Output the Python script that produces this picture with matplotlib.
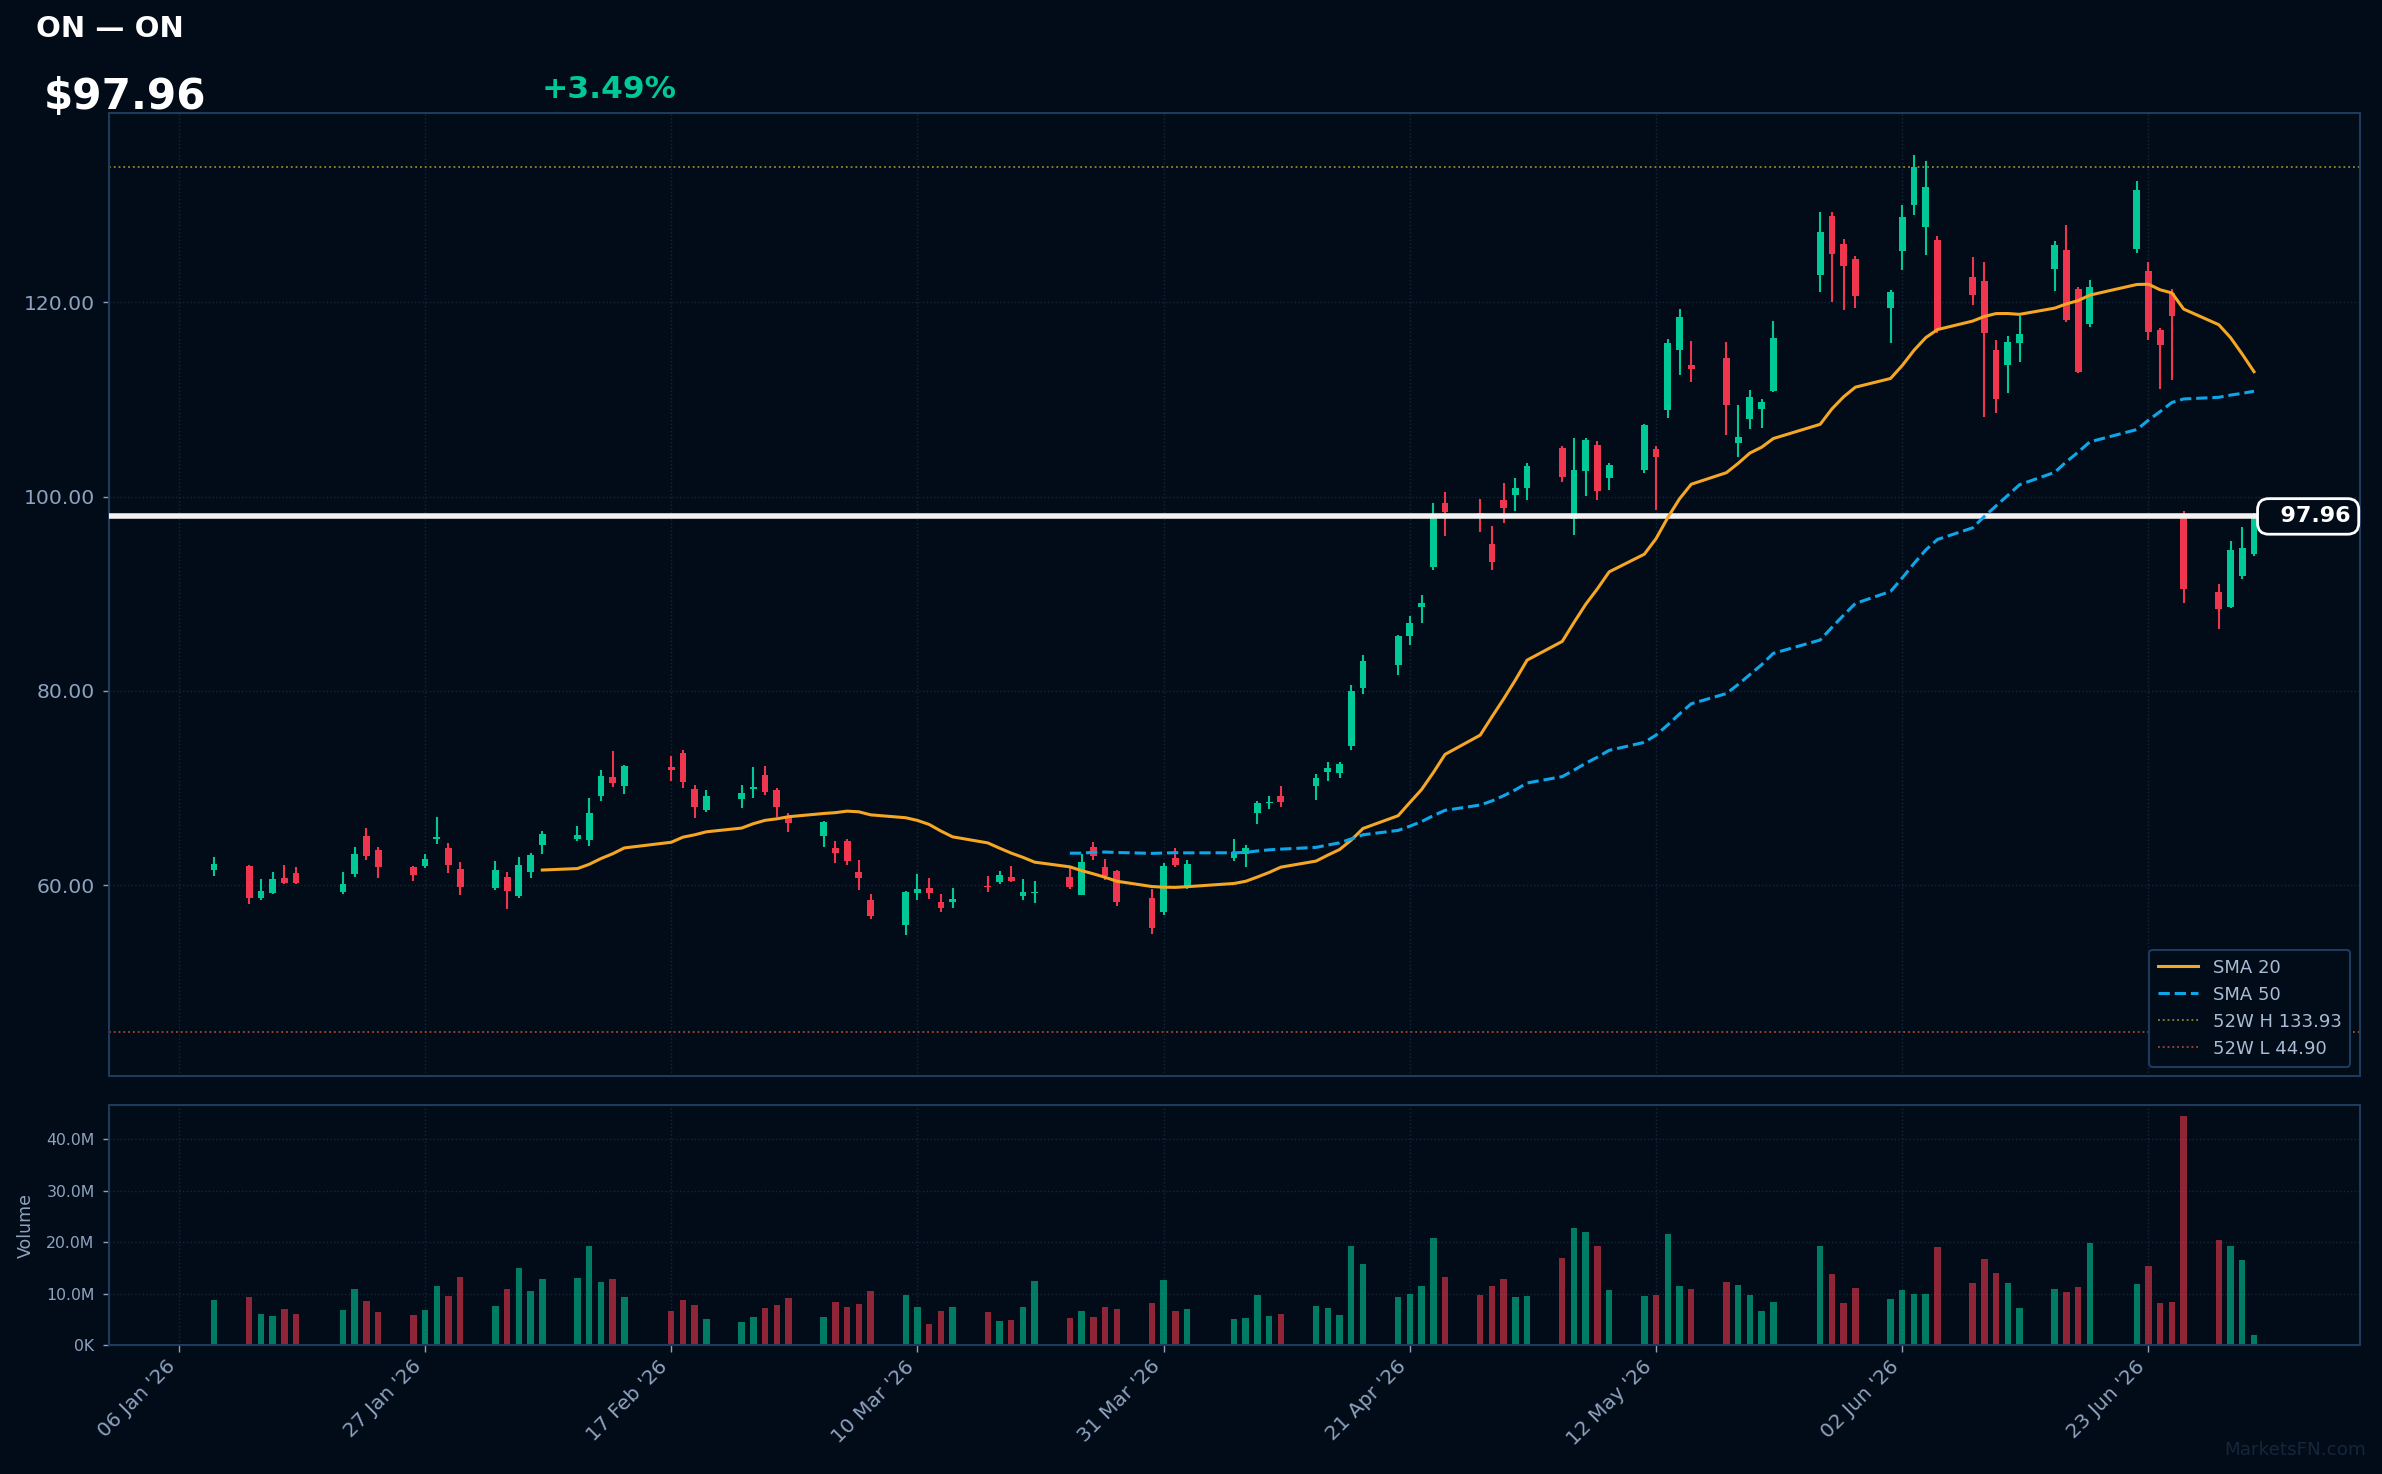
import matplotlib
matplotlib.use('Agg')
import matplotlib.pyplot as plt
import matplotlib.dates as mdates
import matplotlib.transforms as mtransforms
from matplotlib.ticker import FixedLocator, FuncFormatter
import numpy as np
import pandas as pd

# ---------------- data ----------------
holidays = ['2026-01-19', '2026-02-16', '2026-04-03', '2026-05-25', '2026-06-19']
all_days = pd.bdate_range('2026-01-09', '2026-07-02')
dates = all_days[~all_days.isin(pd.to_datetime(holidays))]

open_ = [61.55, 61.96, 58.67, 59.18, 60.73, 61.24, 59.29, 61.14, 65.05, 63.61,
         61.86, 61.96, 64.78, 63.82, 61.65, 59.70, 60.83, 58.87, 61.35, 64.13,
         64.74, 64.64, 69.17, 71.13, 70.20, 72.13, 73.60, 69.89, 67.73, 68.87,
         69.89, 71.34, 69.79, 66.91, 65.05, 63.82, 64.54, 61.35, 58.46, 55.89,
         59.18, 59.70, 58.26, 58.26, 59.90, 60.32, 60.83, 58.87, 59.18, 60.83,
         58.98, 63.92, 61.86, 61.45, 58.67, 57.23, 62.79, 59.70, 62.79, 63.20,
         67.42, 68.45, 69.17, 70.21, 71.65, 71.55, 74.33, 80.30, 82.67, 85.65,
         88.64, 92.76, 99.35, 98.30, 95.13, 99.66, 100.18, 100.90, 105.02, 97.67,
         102.65, 105.33, 101.93, 102.75, 104.92, 108.93, 115.11, 113.57, 114.29, 105.53,
         108.00, 109.03, 110.89, 122.83, 128.90, 126.00, 124.48, 119.44, 125.30, 130.04,
         127.70, 126.40, 122.64, 122.23, 115.13, 113.58, 115.85, 123.47, 125.42, 121.41,
         117.80, 125.53, 123.26, 117.19, 121.00, 98.24, 90.20, 88.66, 91.85, 94.12]
high = [62.89, 62.07, 60.63, 61.35, 62.07, 61.86, 61.35, 63.92, 65.88, 63.92,
        61.96, 63.20, 67.01, 64.33, 62.38, 62.48, 61.35, 62.89, 63.30, 65.57,
        66.08, 68.97, 71.85, 73.81, 72.37, 73.29, 73.91, 70.31, 69.79, 70.31,
        72.16, 72.26, 70.00, 67.42, 66.60, 64.54, 64.74, 62.58, 59.08, 59.39,
        61.14, 60.73, 59.08, 59.70, 60.93, 61.45, 61.96, 60.62, 60.42, 61.76,
        63.20, 64.43, 62.68, 61.55, 59.60, 62.27, 63.82, 62.58, 64.74, 64.13,
        68.66, 69.17, 70.20, 71.44, 72.68, 72.68, 80.61, 83.70, 85.76, 87.71,
        89.88, 99.35, 100.48, 99.76, 96.98, 101.41, 101.93, 103.47, 105.22, 106.05,
        106.05, 105.74, 103.47, 107.49, 105.23, 116.24, 119.33, 116.04, 115.94, 109.45,
        110.99, 110.07, 118.10, 129.25, 129.30, 126.50, 124.79, 121.29, 130.00, 135.20,
        134.50, 126.80, 124.70, 124.19, 116.16, 116.57, 118.63, 126.35, 128.00, 121.60,
        122.33, 132.53, 124.19, 117.39, 121.41, 98.55, 91.03, 95.46, 96.90, 98.30]
low = [60.93, 58.05, 58.46, 59.08, 60.11, 60.11, 59.08, 60.83, 62.58, 60.73,
       60.42, 61.76, 64.23, 61.24, 58.98, 59.49, 57.54, 58.67, 60.73, 63.20,
       64.54, 64.02, 68.66, 70.10, 69.38, 70.72, 70.00, 66.91, 67.53, 67.94,
       68.97, 69.28, 67.01, 65.47, 63.92, 62.27, 62.07, 59.49, 56.51, 54.86,
       58.46, 58.57, 57.23, 57.64, 59.29, 60.11, 60.32, 58.46, 58.15, 59.60,
       58.98, 62.58, 60.52, 57.84, 54.96, 56.92, 61.86, 59.60, 62.48, 61.86,
       66.29, 67.83, 68.04, 68.77, 70.72, 71.03, 73.91, 79.68, 81.64, 84.73,
       86.99, 92.45, 95.95, 96.37, 92.45, 97.29, 98.53, 99.66, 101.52, 96.06,
       100.07, 99.66, 100.69, 102.44, 98.63, 108.11, 112.54, 111.82, 106.36, 104.09,
       106.98, 107.08, 110.79, 121.08, 120.05, 119.23, 119.44, 115.83, 123.35, 129.00,
       124.90, 116.83, 119.76, 108.23, 108.64, 110.70, 113.89, 121.20, 118.01, 112.76,
       117.49, 125.12, 116.16, 111.11, 112.04, 89.07, 86.39, 88.56, 91.54, 93.91]
close = [62.17, 58.67, 59.39, 60.63, 60.21, 60.21, 60.11, 63.20, 62.99, 61.86,
         61.04, 62.69, 64.95, 62.07, 59.80, 61.55, 59.39, 62.07, 63.10, 65.26,
         65.16, 67.42, 71.23, 70.51, 72.26, 71.85, 70.62, 68.04, 69.17, 69.48,
         70.10, 69.59, 68.04, 66.39, 66.50, 63.30, 62.48, 60.73, 56.82, 59.29,
         59.60, 59.18, 57.64, 58.57, 59.80, 61.04, 60.42, 59.29, 59.29, 59.80,
         62.37, 62.99, 60.93, 58.26, 55.58, 61.96, 62.07, 62.17, 63.41, 63.82,
         68.45, 68.55, 68.55, 71.03, 72.06, 72.47, 79.99, 83.08, 85.65, 86.99,
         89.05, 97.81, 98.43, 97.90, 93.28, 98.84, 100.90, 103.16, 102.03, 102.75,
         105.84, 100.59, 103.27, 107.39, 104.09, 115.83, 118.51, 113.16, 109.45, 106.15,
         110.27, 109.76, 116.35, 127.22, 125.00, 123.76, 120.67, 121.08, 128.80, 133.94,
         131.90, 117.17, 120.79, 116.88, 110.08, 115.95, 116.77, 125.94, 118.22, 112.86,
         121.61, 131.60, 116.98, 115.64, 118.63, 90.51, 88.45, 94.53, 94.66, 97.96]
volume_m = [8.7, 9.3, 6.0, 5.6, 6.9, 6.0, 6.8, 10.8, 8.5, 6.4,
            5.8, 6.8, 11.4, 9.5, 13.2, 7.5, 10.8, 14.9, 10.5, 12.8,
            13.0, 19.2, 12.2, 12.8, 9.3, 6.6, 8.7, 7.7, 5.0, 4.4,
            5.4, 7.1, 7.7, 9.1, 5.4, 8.3, 7.3, 7.9, 10.5, 9.7,
            7.3, 4.0, 6.6, 7.3, 6.4, 4.6, 4.8, 7.3, 12.4, 5.2,
            6.6, 5.4, 7.3, 6.9, 8.1, 12.6, 6.6, 6.9, 5.0, 5.2,
            9.7, 5.6, 6.0, 7.5, 7.1, 5.8, 19.2, 15.7, 9.3, 9.9,
            11.4, 20.8, 13.2, 9.7, 11.4, 12.8, 9.3, 9.5, 16.9, 22.7,
            21.9, 19.2, 10.6, 9.5, 9.7, 21.6, 11.4, 10.8, 12.2, 11.6,
            9.7, 6.6, 8.3, 19.2, 13.8, 8.1, 11.0, 8.9, 10.6, 9.9,
            9.9, 19.0, 12.0, 16.7, 14.0, 12.0, 7.1, 10.8, 10.3, 11.2,
            19.8, 11.8, 15.3, 8.1, 8.3, 44.4, 20.4, 19.2, 16.5, 1.9]

ticker = 'ON'
last_price = 97.96
change_pct = 3.49
high_52w = 133.93
low_52w = 44.90
tick_dates = pd.date_range('2026-01-06', periods=9, freq='21D')

# ---------------- style ----------------
BG = '#010c18'
UP = '#00c897'
DOWN = '#f0364f'
SPINE = '#1e3a5c'
GRID = '#16263a'
TXT = '#8fa3bf'
LEG_TXT = '#a9bcd3'

W, H = 2382, 1474
fig = plt.figure(figsize=(W / 100, H / 100), dpi=100, facecolor=BG)
L, R = 108.5, 2359.5
ax = fig.add_axes([L / W, 1 - 1075.7 / H, (R - L) / W, (1075.7 - 113.3) / H])
axv = fig.add_axes([L / W, 1 - 1345 / H, (R - L) / W, (1345 - 1105) / H], sharex=ax)

o = np.array(open_); h = np.array(high); lo = np.array(low); c = np.array(close)
v = np.array(volume_m) * 1e6
x = mdates.date2num(dates.to_pydatetime())
colors = np.where(c >= o, UP, DOWN)

for a in (ax, axv):
    a.set_facecolor(BG)
    for s in a.spines.values():
        s.set_color(SPINE)
        s.set_linewidth(1.5)
    a.grid(True, color=GRID, ls=':', lw=1.0)
    a.set_axisbelow(True)

# candles
ax.vlines(x, lo, h, colors=colors, lw=1.5, zorder=3)
ax.bar(x, np.maximum(np.abs(c - o), 0.15), bottom=np.minimum(o, c), width=0.58,
       color=colors, linewidth=0, zorder=3.1)

# price line
ax.axhline(last_price, color='#f2f2f2', lw=4, zorder=4)

# SMAs
cs = pd.Series(c)
ax.plot(x, cs.rolling(20).mean(), color='#f5a623', lw=2.2, label='SMA 20', zorder=5)
ax.plot(x, cs.rolling(50).mean(), color='#0ea5e9', lw=2.2, ls='--', label='SMA 50', zorder=5)
ax.axhline(high_52w, color='#8c8a2e', ls=':', lw=1.3, label=f'52W H {high_52w:.2f}', zorder=2)
ax.axhline(low_52w, color='#a5482c', ls=':', lw=1.3, label=f'52W L {low_52w:.2f}', zorder=2)

ax.set_xlim(x[0] - 9, x[-1] + 9)
ax.set_ylim(40.4, 139.45)
ax.yaxis.set_major_locator(FixedLocator([60, 80, 100, 120]))
ax.yaxis.set_major_formatter(FuncFormatter(lambda val, p: f'{val:.2f}'))
ax.tick_params(axis='y', colors=TXT, labelsize=14.6, length=4, width=1, pad=6)
ax.tick_params(axis='x', length=0, labelbottom=False)

leg = ax.legend(loc='lower right', fontsize=13, facecolor=BG, edgecolor=SPINE,
                labelcolor=LEG_TXT, framealpha=1.0, borderpad=0.5, handlelength=2.2)
leg.get_frame().set_linewidth(1.5)
leg.set_zorder(10)

# price label box
trans = mtransforms.blended_transform_factory(ax.transAxes, ax.transData)
ax.text(0.9962, last_price, '  ' + f'{last_price:.2f}', transform=trans, ha='right', va='center',
        color='white', fontsize=16, fontweight='bold', zorder=12, clip_on=False,
        bbox=dict(boxstyle='round,pad=0.35,rounding_size=0.5', fc=BG, ec='white', lw=2))

# volume
axv.bar(x, v, width=0.55, color=colors, alpha=0.6, linewidth=0)
axv.set_ylim(0, v.max() * 1.05)
axv.yaxis.set_major_locator(FixedLocator([0, 10e6, 20e6, 30e6, 40e6]))


def vfmt(val, p):
    if val >= 1e6:
        return f'{val / 1e6:.1f}M'
    return f'{val / 1e3:.0f}K'


axv.yaxis.set_major_formatter(FuncFormatter(vfmt))
axv.tick_params(axis='y', colors=TXT, labelsize=11.3, length=4, width=1, pad=6)
axv.set_ylabel('Volume', color=TXT, fontsize=12.5, labelpad=8)
axv.xaxis.set_major_locator(FixedLocator(mdates.date2num(tick_dates.to_pydatetime())))
axv.xaxis.set_major_formatter(mdates.DateFormatter("%d %b '%y"))
axv.tick_params(axis='x', colors=TXT, labelsize=14.5, length=5, width=1)
plt.setp(axv.get_xticklabels(), rotation=45, ha='right')
ax.xaxis.set_major_locator(FixedLocator(mdates.date2num(tick_dates.to_pydatetime())))

# header texts
fig.text(36 / W, 1 - 37.3 / H, f'{ticker} — {ticker}', color='white', fontsize=21,
         fontweight='bold', va='baseline', ha='left')
fig.text(44 / W, 1 - 109.3 / H, f'${last_price:.2f}', color='white', fontsize=30.3,
         fontweight='bold', va='baseline', ha='left')
fig.text(542 / W, 1 - 98.3 / H, f'+{change_pct:.2f}%', color=UP, fontsize=22.6,
         fontweight='bold', va='baseline', ha='left')
fig.text(2366 / W, 1 - 1455 / H, 'MarketsFN.com', color='#16263a', fontsize=13.2,
         va='baseline', ha='right')

fig.savefig('out.png', dpi=100, facecolor=BG)
